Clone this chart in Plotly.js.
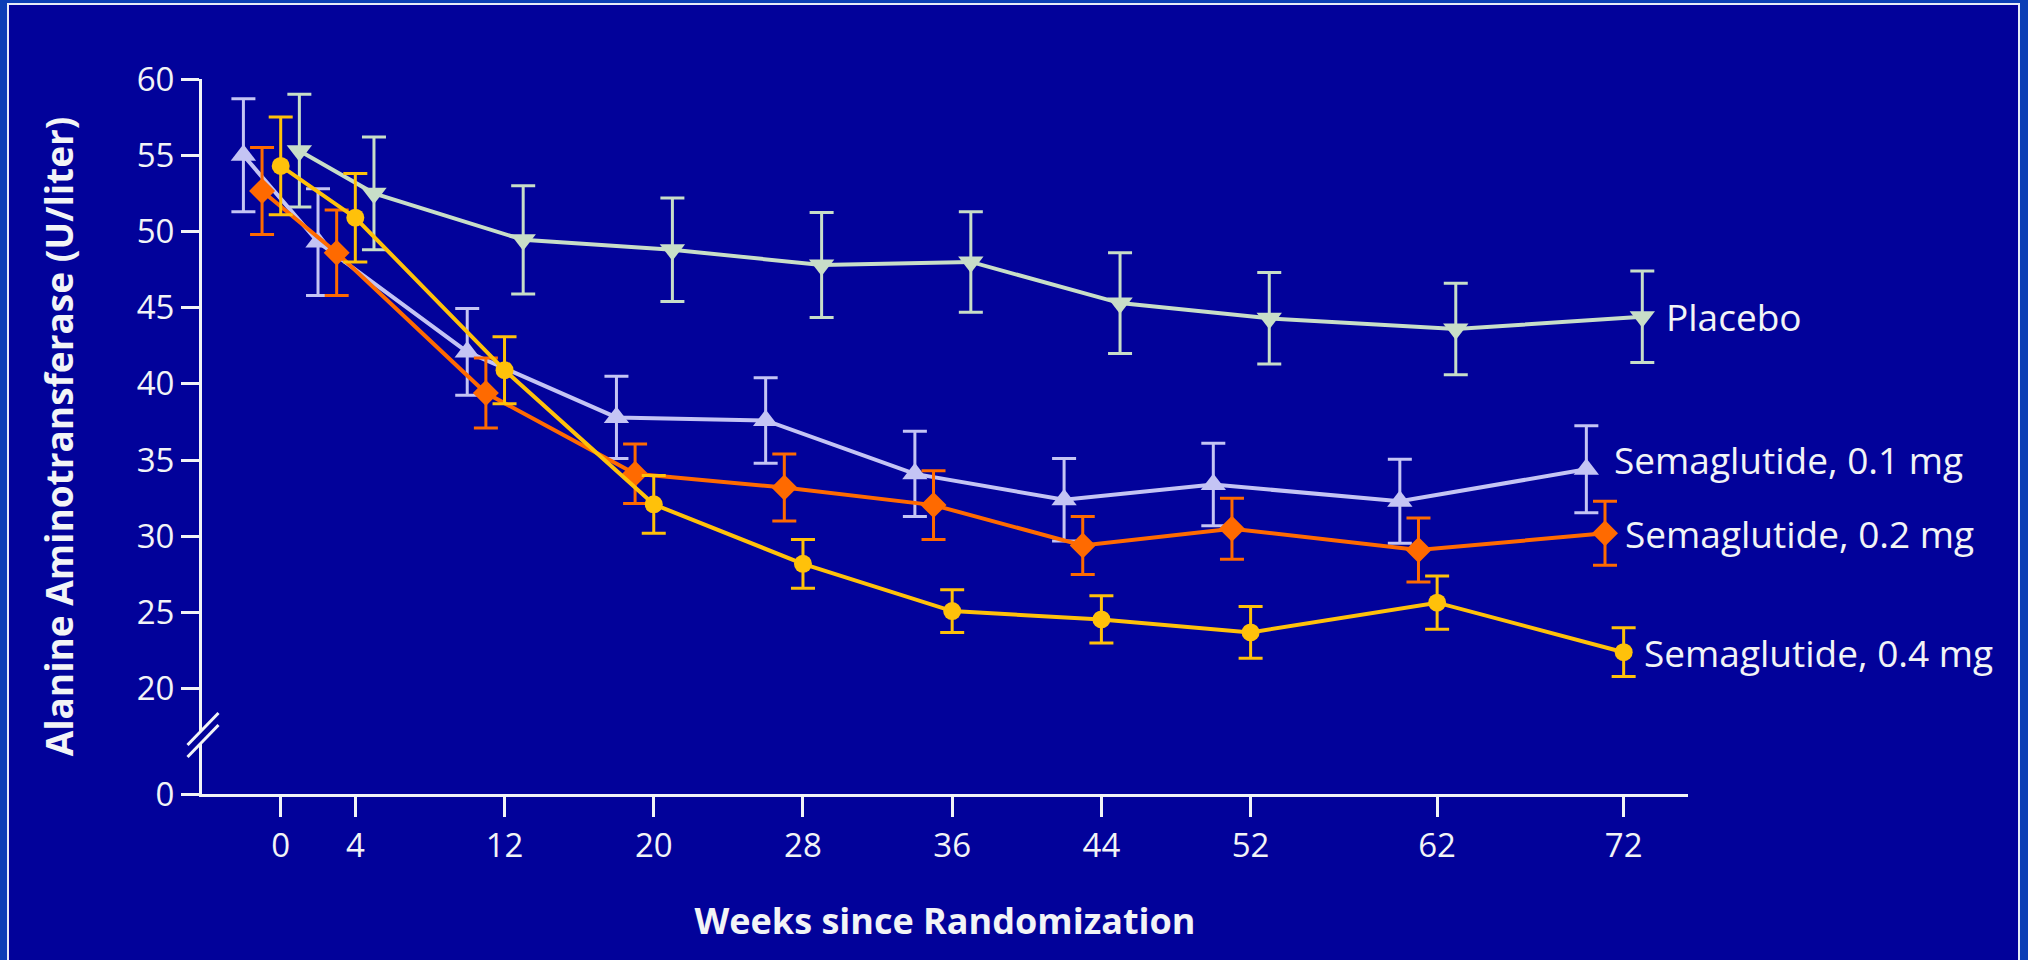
<!DOCTYPE html>
<html>
<head>
<meta charset="utf-8">
<script src="https://cdn.plot.ly/plotly-3.0.1.min.js"></script>
<style>
  html, body { margin: 0; padding: 0; background: #0b3fb6; }
  #chart { width: 2028px; height: 960px; }
</style>
</head>
<body>
<div id="chart"></div>
<script>
// ---- Data ----
const weeks = [0, 4, 12, 20, 28, 36, 44, 52, 62, 72];
const xTickVals = [0, 4, 12, 20, 28, 36, 44, 52, 62, 72];
const xTickText = ["0", "4", "12", "20", "28", "36", "44", "52", "62", "72"];
// y axis is broken below 20: the "0" tick sits at the bottom of the axis
const yTickVals = [13.1, 20, 25, 30, 35, 40, 45, 50, 55, 60];
const yTickText = ["0", "20", "25", "30", "35", "40", "45", "50", "55", "60"];

const seriesNames = ["Placebo", "Semaglutide, 0.1 mg", "Semaglutide, 0.2 mg", "Semaglutide, 0.4 mg"];

const placebo    = [55.3, 52.5, 49.45, 48.8, 47.8, 48.0, 45.3, 44.3, 43.6, 44.4];
const placeboErr = [3.7, 3.7, 3.55, 3.4, 3.45, 3.3, 3.3, 3.0, 3.0, 3.0];

const sema01     = [55.0, 49.3, 42.1, 37.8, 37.6, 34.1, 32.4, 33.4, 32.3, 34.4];
const sema01Err  = [3.7, 3.5, 2.85, 2.7, 2.8, 2.8, 2.7, 2.7, 2.75, 2.85];

const sema02     = [52.65, 48.6, 39.4, 34.1, 33.2, 32.05, 29.4, 30.5, 29.1, 30.2];
const sema02Err  = [2.85, 2.8, 2.3, 1.95, 2.2, 2.25, 1.9, 2.0, 2.1, 2.1];

const sema04     = [54.3, 50.9, 40.9, 32.1, 28.2, 25.1, 24.55, 23.7, 25.65, 22.4];
const sema04Err  = [3.2, 2.9, 2.2, 1.9, 1.6, 1.4, 1.55, 1.7, 1.75, 1.6];

// ---- Styles ----
const FONT = "Open Sans, Lato, sans-serif";
const TXT = "#f2f4f6";
const BG = "#02029a";
const OUTER = "#0b3fb6";

const styles = [
  { vals: placebo, err: placeboErr, color: "#c8dec8", symbol: "triangle-down", size: 22, offset: 1,  lx: 22, ly: 0 },
  { vals: sema01,  err: sema01Err,  color: "#c4c4f4", symbol: "triangle-up",   size: 22, offset: -2, lx: 26, ly: 10 },
  { vals: sema02,  err: sema02Err,  color: "#ff6a00", symbol: "diamond",       size: 20, offset: -1, lx: 18, ly: 0 },
  { vals: sema04,  err: sema04Err,  color: "#ffc10a", symbol: "circle",        size: 18, offset: 0,  lx: 18, ly: 0 }
];

const traces = styles.map((s, i) => ({
  type: "scatter",
  mode: "lines+markers",
  name: seriesNames[i],
  x: weeks.map(w => w + s.offset),
  y: s.vals,
  line: { color: s.color, width: 4 },
  marker: { color: s.color, symbol: s.symbol, size: s.size, line: { width: 0 } },
  error_y: { type: "data", array: s.err, visible: true, color: s.color, thickness: 3, width: 12 },
  cliponaxis: false,
  showlegend: false,
  hoverinfo: "x+y"
}));

const annotations = styles.map((s, i) => ({
  xref: "x", yref: "y",
  x: weeks[weeks.length - 1] + s.offset,
  y: s.vals[s.vals.length - 1],
  text: seriesNames[i],
  showarrow: false,
  xanchor: "left", yanchor: "middle",
  xshift: s.lx, yshift: s.ly,
  font: { family: FONT, size: 37, color: TXT }
}));

// plot-area pixel geometry (used only for decorative frame / axis-break shapes)
const W = 2028, H = 960;
const M = { l: 202, r: 340, t: 79, b: 166 };
const PW = W - M.l - M.r, PH = H - M.t - M.b;
const px = v => (v - M.l) / PW;          // pixel x -> paper x
const py = v => (H - M.b - v) / PH;      // pixel y -> paper y

const shapes = [
  // framed inner panel
  { type: "rect", xref: "paper", yref: "paper", layer: "below",
    x0: px(8), x1: px(2019), y0: py(1000), y1: py(4),
    fillcolor: BG, line: { color: "#e6ecf8", width: 2 } },
  // axis break: gap in the y axis line
  { type: "path", xref: "paper", yref: "paper", layer: "above",
    path: `M ${px(194)} ${py(738)} L ${px(209)} ${py(723)} L ${px(209)} ${py(736)} L ${px(194)} ${py(750)} Z`,
    fillcolor: BG, line: { width: 0 } },
  // axis break slashes
  { type: "line", xref: "paper", yref: "paper", layer: "above",
    x0: px(187.5), y0: py(745), x1: px(218.5), y1: py(713), line: { color: TXT, width: 3 } },
  { type: "line", xref: "paper", yref: "paper", layer: "above",
    x0: px(187.5), y0: py(757), x1: px(218.5), y1: py(725), line: { color: TXT, width: 3 } }
];

const layout = {
  width: W, height: H, autosize: false,
  margin: { l: M.l, r: M.r, t: M.t, b: M.b, pad: 0 },
  paper_bgcolor: OUTER,
  plot_bgcolor: BG,
  font: { family: FONT, color: TXT },
  showlegend: false,
  xaxis: {
    range: [-4.22, 75.45],
    tickvals: xTickVals, ticktext: xTickText,
    ticks: "outside", ticklen: 20, tickwidth: 3, tickcolor: TXT,
    showline: true, linewidth: 3, linecolor: TXT,
    showgrid: false, zeroline: false,
    tickfont: { family: FONT, size: 33, color: TXT },
    title: { text: "Weeks since Randomization", standoff: 44,
             font: { family: FONT, size: 36, color: TXT, weight: 700 } }
  },
  yaxis: {
    range: [13.1, 60],
    tickvals: yTickVals, ticktext: yTickText,
    ticks: "outside", ticklen: 18, tickwidth: 3, tickcolor: TXT,
    showline: true, linewidth: 3, linecolor: TXT,
    showgrid: false, zeroline: false,
    tickfont: { family: FONT, size: 33, color: TXT },
    title: { text: "Alanine Aminotransferase (U/liter)", standoff: 52,
             font: { family: FONT, size: 37, color: TXT, weight: 700 } }
  },
  annotations: annotations,
  shapes: shapes
};

Plotly.newPlot("chart", traces, layout, { displayModeBar: false, staticPlot: true });
</script>
</body>
</html>
